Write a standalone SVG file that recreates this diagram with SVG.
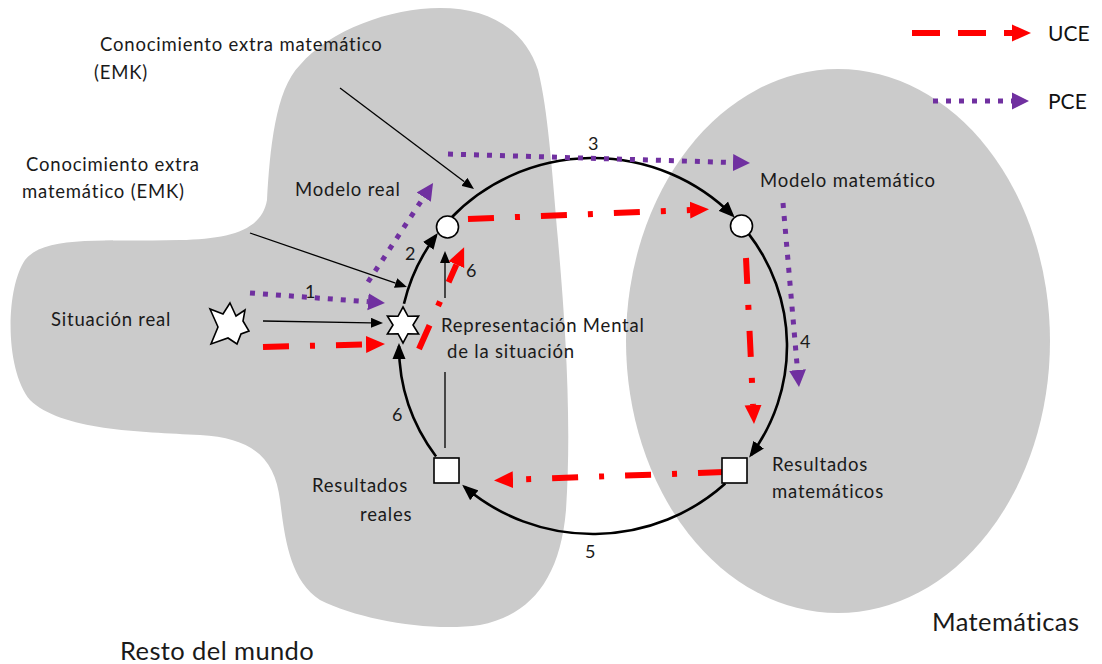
<svg xmlns="http://www.w3.org/2000/svg" width="1102" height="664" viewBox="0 0 1102 664">
<defs>
<style>
.t{font-family:Lato,"Liberation Sans",sans-serif;fill:#1a1a1a;font-size:18.5px;letter-spacing:0.8px}
.n{font-family:Lato,"Liberation Sans",sans-serif;fill:#1a1a1a;font-size:18px}
.big{font-family:Lato,"Liberation Sans",sans-serif;fill:#1a1a1a;font-size:25.5px;letter-spacing:0.4px}
.leg{font-family:Lato,"Liberation Sans",sans-serif;fill:#111;font-size:21px}
.cyc{fill:none;stroke:#000;stroke-width:2.6;marker-end:url(#ab)}
.thin{fill:none;stroke:#000;stroke-width:1.3;marker-end:url(#at)}
.uce{fill:none;stroke:#f00;stroke-width:6;stroke-dasharray:26 21 5 21;marker-end:url(#ar)}
.pce{fill:none;stroke:#7030a0;stroke-width:5;stroke-dasharray:5 8;marker-end:url(#ap)}
.node{fill:#fff;stroke:#000;stroke-width:1.6}
</style>
<marker id="ab" markerUnits="userSpaceOnUse" viewBox="0 -7 16 14" markerWidth="16" markerHeight="14" refX="13" refY="0" orient="auto"><path d="M0,-6.5 L16,0 L0,6.5 Z" fill="#000"/></marker>
<marker id="at" markerUnits="userSpaceOnUse" viewBox="0 -5 12 10" markerWidth="12" markerHeight="10" refX="0" refY="0" orient="auto"><path d="M0,-5 L12,0 L0,5 Z" fill="#000"/></marker>
<marker id="ar" markerUnits="userSpaceOnUse" viewBox="0 -9 20 18" markerWidth="20" markerHeight="18" refX="0" refY="0" orient="auto"><path d="M0,-8.5 L19,0 L0,8.5 Z" fill="#f00"/></marker>
<marker id="ap" markerUnits="userSpaceOnUse" viewBox="0 -9 18 18" markerWidth="18" markerHeight="18" refX="0" refY="0" orient="auto"><path d="M0,-8.5 L17,0 L0,8.5 Z" fill="#7030a0"/></marker>
</defs>
<rect width="1102" height="664" fill="#fff"/>
<g id="resto-del-mundo">
<path d="M267,200 C270,150 275,90 300,65 C330,30 390,8 440,8 C490,8 525,30 538,70 C548,110 552,170 558,240 C565,320 572,420 566,510 C560,580 530,615 480,625 C430,632 360,620 320,600 C290,580 285,540 280,500 C275,460 255,438 200,435 C140,432 60,430 30,400 C5,370 5,290 25,260 C45,235 100,242 180,240 C230,239 262,230 267,200 Z" fill="#cbcbcb"/>
<text class="big" x="120" y="660">Resto del mundo</text>
</g>
<g id="matematicas">
<ellipse cx="838" cy="341" rx="212" ry="272" fill="#cbcbcb"/>
<text class="big" x="932" y="631">Matemáticas</text>
</g>
<g id="connectors">
<path class="cyc" d="M403.97,303.71 A194,188 0 0,1 436.05,235.5"/>
<path class="cyc" d="M449.97,218.99 A194,188 0 0,1 732.55,215.4"/>
<path class="cyc" d="M747.94,232.86 A194,188 0 0,1 750.94,455.17"/>
<path class="cyc" d="M725.31,483.49 A194,188 0 0,1 464.45,486.8"/>
<path class="cyc" d="M436.05,456.5 A194,188 0 0,1 399,346"/>
<path class="thin" d="M340,88 L464.4,181.8"/>
<path class="thin" d="M250,233 L395.6,283.1"/>
<path class="thin" d="M263,321 L371,322.8"/>
<path class="thin" d="M445,448 L445,372 M445,298 L445,263"/>
<path class="uce" d="M263,347 L366,344.5"/>
<path class="uce" d="M419,349 L456.4,264.6"/>
<path class="uce" d="M468,219 L690,210"/>
<path class="uce" d="M746,258 L753.1,405"/>
<path class="uce" d="M724,472 L513,479.7"/>
<path class="pce" d="M250,293 L368,301.7"/>
<path class="pce" d="M368,282 L423.7,197.2"/>
<path class="pce" d="M448,154 L733,162.5"/>
<path class="pce" d="M783,203 L797.5,370"/>
<text class="n" x="305" y="298">1</text>
<text class="n" x="405" y="260">2</text>
<text class="n" x="588" y="150">3</text>
<text class="n" x="800" y="348">4</text>
<text class="n" x="585" y="558">5</text>
<text class="n" x="392" y="421">6</text>
<text class="n" x="466" y="277">6</text>
</g>
<g id="emk-top"><text class="t" x="100" y="51">Conocimiento extra matemático</text><text class="t" x="94" y="79">(EMK)</text></g>
<g id="emk-left"><text class="t" x="26" y="171">Conocimiento extra</text><text class="t" x="22" y="198">matemático (EMK)</text></g>
<g id="situacion-real">
<polygon class="node" points="230,303 236,316 245,310 243,321 249,331 241,334 237,344 228,338 211,344 218,327 210,309 223,314"/>
<text class="t" x="51" y="326">Situación real</text>
</g>
<g id="representacion-mental">
<polygon class="node" points="403,307 408,316.3 418.6,316 413,325 418.6,334 408,333.7 403,343 398,333.7 387.4,334 393,325 387.4,316 398,316.3"/>
<text class="t" x="441" y="332">Representación Mental</text>
<text class="t" x="447" y="358">de la situación</text>
</g>
<g id="modelo-real">
<circle class="node" cx="447.5" cy="227" r="11"/>
<text class="t" x="295" y="196">Modelo real</text>
</g>
<g id="modelo-matematico">
<circle class="node" cx="741.5" cy="226" r="11"/>
<text class="t" x="760" y="187">Modelo matemático</text>
</g>
<g id="resultados-matematicos">
<rect class="node" x="722" y="458" width="25" height="25"/>
<text class="t" x="772" y="471">Resultados</text>
<text class="t" x="772" y="498">matemáticos</text>
</g>
<g id="resultados-reales">
<rect class="node" x="434" y="458" width="25" height="25"/>
<text class="t" x="312" y="492">Resultados</text>
<text class="t" x="360" y="521">reales</text>
</g>
<g id="legend">
<path d="M912,33 L1012,33" fill="none" stroke="#f00" stroke-width="6" stroke-dasharray="28 18" marker-end="url(#ar)"/>
<text class="leg" x="1048" y="41">UCE</text>
<path d="M933,101 L1012,101" fill="none" stroke="#7030a0" stroke-width="5" stroke-dasharray="5 8" marker-end="url(#ap)"/>
<text class="leg" x="1048" y="109">PCE</text>
</g>
</svg>
